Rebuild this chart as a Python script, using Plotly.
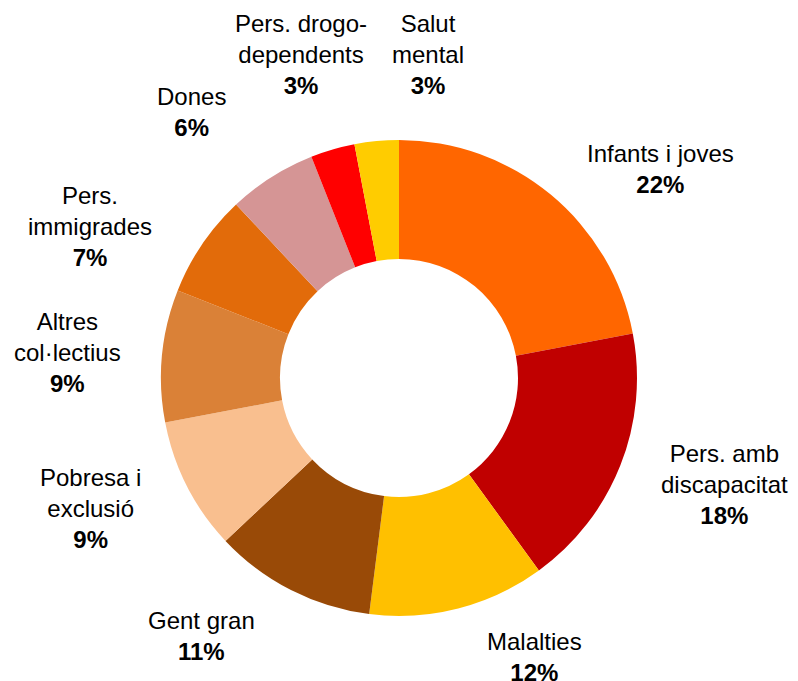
import math
import plotly.graph_objects as go

# Data
categories = ["Infants i joves", "Pers. amb discapacitat", "Malalties", "Gent gran",
              "Pobresa i exclusió", "Altres col·lectius", "Pers. immigrades", "Dones",
              "Pers. drogo-dependents", "Salut mental"]
label_text = ["Infants i joves", "Pers. amb<br>discapacitat", "Malalties", "Gent gran",
              "Pobresa i<br>exclusió", "Altres<br>col·lectius", "Pers.<br>immigrades", "Dones",
              "Pers. drogo-<br>dependents", "Salut<br>mental"]
values = [22, 18, 12, 11, 9, 9, 7, 6, 3, 3]

# Styles
colors = ["#FF6600", "#C00000", "#FFC000", "#994A07", "#F9BF8F",
          "#DA8137", "#E26B0A", "#D59595", "#FF0000", "#FFCC00"]
# label placement nudges (degrees) and radii (px) relative to slice mid-angle
label_nudge = [11.8, -3.5, -11.6, 10.5, 4, -1, -8, -5.5, -0.6, 10.5]
label_radius = [335, 342, 310, 325, 335, 332, 344, 337, 338, 325]

W, H = 798, 681
top_m, bot_m = 140, 65
pie_r = (H - top_m - bot_m) / 2
cx, cy = W / 2, top_m + pie_r

fig = go.Figure(go.Pie(
    labels=categories, values=values, hole=0.5, sort=False,
    direction="clockwise", rotation=0, textinfo="none", hoverinfo="label+percent",
    marker=dict(colors=colors, line=dict(width=0)),
    domain=dict(x=[0, 1], y=[bot_m / H, 1 - top_m / H]),
    showlegend=False,
))

total = sum(values)
cum = 0
annotations = []
for i, v in enumerate(values):
    mid = (cum + v / 2) / total * 360
    cum += v
    a = math.radians(mid + label_nudge[i])
    px = cx + label_radius[i] * math.sin(a)
    py = cy - label_radius[i] * math.cos(a)
    pct = round(v / total * 100)
    annotations.append(dict(
        x=px / W, y=1 - py / H, xref="paper", yref="paper",
        text=f"{label_text[i]}<br><b>{pct}%</b>", showarrow=False,
        xanchor="center", yanchor="middle", align="center",
        font=dict(family="Liberation Sans, Arial, sans-serif", size=24, color="#000000"),
    ))

fig.update_layout(
    width=W, height=H, margin=dict(l=0, r=0, t=0, b=0),
    paper_bgcolor="white", plot_bgcolor="white",
    annotations=annotations,
)

fig.write_html("out.html", config={"displayModeBar": False},
               post_script="document.body.style.margin='0';document.body.style.overflow='hidden';")
